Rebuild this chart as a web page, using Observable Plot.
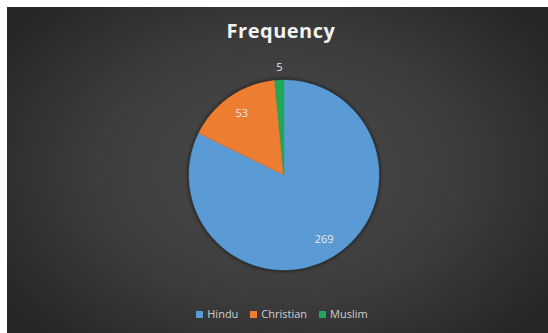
<!DOCTYPE html>
<html><head><meta charset="utf-8">
<script src="https://cdn.jsdelivr.net/npm/d3@7"></script>
<script src="https://cdn.jsdelivr.net/npm/@observablehq/plot@0.6"></script>
<style>
html,body{margin:0;padding:0;background:#fff;}
#chart{position:absolute;left:7px;top:7px;width:541px;height:326px;overflow:hidden;
 background:radial-gradient(ellipse 60% 70% at 50% 50%, #4b4b4b 0%, #3d3d3d 55%, #272727 100%);
 font-family:"Open Sans",sans-serif;}
#title{position:absolute;left:0;width:548px;top:10px;text-align:center;color:#f2f2f2;font-weight:700;font-size:20px;letter-spacing:0.5px;}
#legend{position:absolute;left:0;width:550px;top:299px;text-align:center;color:#cfcfcf;font-size:11px;}
#legend span.item{margin:0 6px;white-space:nowrap;}
#legend span.sw{display:inline-block;width:7px;height:7px;margin-right:4px;vertical-align:0px;}
#plot{position:absolute;left:0;top:0;}
#plot g[aria-label="area"]{filter:drop-shadow(0 0 2px rgba(0,0,0,0.85));}
</style></head>
<body>
<div id="chart">
 <div id="plot"></div>
 <div id="title">Frequency</div>
 <div id="legend"></div>
</div>
<script>
const religions = ["Hindu", "Christian", "Muslim"];
const frequency = [269, 53, 5];
const colors = ["#5b9bd5", "#ed7d31", "#1fa85b"];

const rows = religions.map((r, i) => ({religion: r, value: frequency[i]}));
const arcs = d3.pie().sort(null).value(d => d.value)(rows);
const total = d3.sum(frequency);

// polygon points along each slice's arc (geometry derived from data)
const pts = [];
for (const a of arcs) {
  const n = Math.max(2, Math.ceil((a.endAngle - a.startAngle) / (Math.PI / 180)));
  for (let k = 0; k <= n; k++) {
    const t = a.startAngle + (a.endAngle - a.startAngle) * k / n;
    pts.push({religion: a.data.religion, x: Math.sin(t), y: Math.cos(t)});
  }
}
const labels = arcs.map(a => {
  const m = (a.startAngle + a.endAngle) / 2;
  const r = a.data.value / total < 0.03 ? 1.14 : 0.79;
  return {religion: a.data.religion, value: a.data.value, x: r * Math.sin(m), y: r * Math.cos(m)};
});

const cx = 277, cy = 168, R = 95, W = 541, H = 326;
const plot = Plot.plot({
  width: W, height: H,
  marginLeft: cx - R, marginRight: W - (cx + R),
  marginTop: cy - R, marginBottom: H - (cy + R),
  x: {domain: [-1, 1], axis: null},
  y: {domain: [-1, 1], axis: null},
  color: {domain: religions, range: colors},
  style: {background: "transparent", overflow: "visible"},
  marks: [
    Plot.area(pts, {x1: () => 0, y1: () => 0, x2: "x", y2: "y", z: "religion", fill: "religion", stroke: "religion", strokeWidth: 0.5}),
    Plot.text(labels, {x: "x", y: "y", text: d => String(d.value), fill: "#e8e8e8", fontSize: 11, fontFamily: "Open Sans"})
  ]
});
document.getElementById("plot").appendChild(plot);

const lg = document.getElementById("legend");
religions.forEach((r, i) => {
  const s = document.createElement("span"); s.className = "item";
  const sw = document.createElement("span"); sw.className = "sw"; sw.style.background = colors[i];
  s.appendChild(sw); s.appendChild(document.createTextNode(r));
  lg.appendChild(s);
});
</script>
</body></html>
